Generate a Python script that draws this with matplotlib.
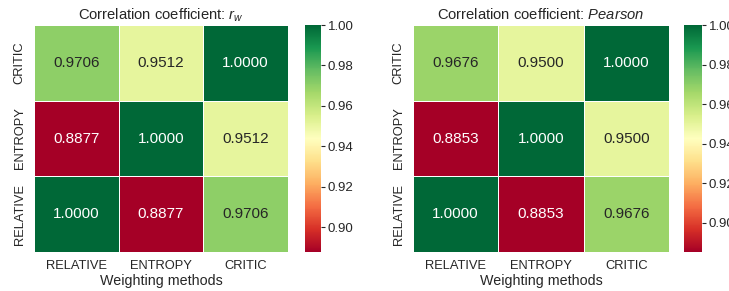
import numpy as np
import matplotlib
matplotlib.use("Agg")
import matplotlib.pyplot as plt
import seaborn as sns

methods = ["RELATIVE", "ENTROPY", "CRITIC"]

# rows listed bottom -> top (RELATIVE, ENTROPY, CRITIC)
rw_vals = [[1.0000, 0.8877, 0.9706],
           [0.8877, 1.0000, 0.9512],
           [0.9706, 0.9512, 1.0000]]
pearson_vals = [[1.0000, 0.8853, 0.9676],
                [0.8853, 1.0000, 0.9500],
                [0.9676, 0.9500, 1.0000]]

sns.set_style("white")
plt.rcParams['font.family'] = ['Liberation Sans', 'DejaVu Sans']
plt.rcParams['mathtext.fontset'] = 'custom'
plt.rcParams['mathtext.it'] = 'Liberation Sans:italic'
plt.rcParams['mathtext.rm'] = 'Liberation Sans'

fig = plt.figure(figsize=(7.29, 2.91), dpi=100)
W, H = 729, 291

def box(x0, y0, x1, y1):
    return [x0 / W, 1 - y1 / H, (x1 - x0) / W, (y1 - y0) / H]

panels = [
    (rw_vals, "Correlation coefficient: $r_w$", box(34, 25, 288, 252), box(305, 25, 321, 252)),
    (pearson_vals, "Correlation coefficient: $Pearson$", box(413, 25, 669, 252), box(684, 25, 702, 252)),
]

for vals, title, axpos, cpos in panels:
    ax = fig.add_axes(axpos)
    cax = fig.add_axes(cpos)
    data = np.array(vals)
    sns.heatmap(data, ax=ax, cbar_ax=cax, cmap="RdYlGn", annot=True, fmt=".4f",
                linewidths=0.7, linecolor="white", xticklabels=methods, yticklabels=methods,
                annot_kws={"fontsize": 11})
    ax.invert_yaxis()
    ax.set_title(title, fontsize=10.6, pad=4)
    ax.set_xlabel("Weighting methods", fontsize=10.3, labelpad=1)
    ax.tick_params(axis="both", labelsize=9.3, length=0, pad=6)
    plt.setp(ax.get_yticklabels(), rotation=90, va="center")
    cax.tick_params(labelsize=9.5, length=3, width=0.8, pad=2, right=True)
    cax.set_yticks([0.90, 0.92, 0.94, 0.96, 0.98, 1.00])
    cax.set_yticklabels(["0.90", "0.92", "0.94", "0.96", "0.98", "1.00"])

fig.savefig("out.png", dpi=100)
